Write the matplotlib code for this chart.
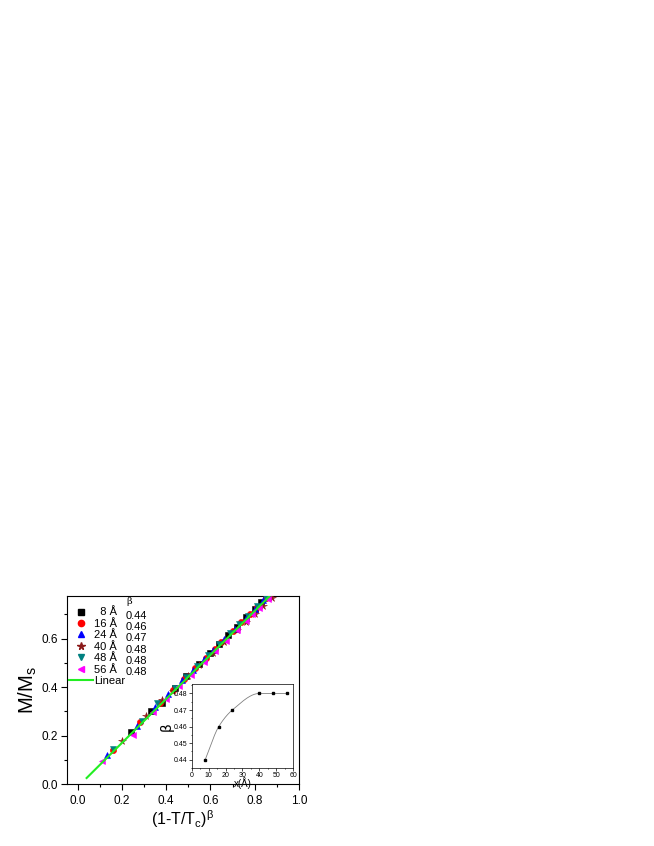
import numpy as np
import matplotlib
matplotlib.use("Agg")
import matplotlib.pyplot as plt
from matplotlib.lines import Line2D
from matplotlib.ticker import MultipleLocator, FormatStrFormatter

# ---------------- data ----------------
labels = ["  8 Å", "16 Å", "24 Å", "40 Å", "48 Å", "56 Å"]
beta = [0.44, 0.46, 0.47, 0.48, 0.48, 0.48]
thick = [8, 16, 24, 40, 48, 56]

x8 = [0.24, 0.33, 0.38, 0.44, 0.49, 0.55, 0.60, 0.64, 0.68, 0.72, 0.76, 0.80, 0.83, 0.85]
y8 = [0.217, 0.300, 0.336, 0.398, 0.445, 0.497, 0.541, 0.580, 0.615, 0.650, 0.688, 0.722, 0.752, 0.771]

x16 = [0.16, 0.28, 0.37, 0.43, 0.48, 0.53, 0.58, 0.62, 0.65, 0.70, 0.74, 0.78, 0.81, 0.85]
y16 = [0.142, 0.255, 0.335, 0.390, 0.435, 0.478, 0.522, 0.559, 0.587, 0.631, 0.668, 0.703, 0.731, 0.767]

x24 = [0.13, 0.27, 0.35, 0.41, 0.47, 0.52, 0.57, 0.61, 0.66, 0.71, 0.76, 0.80, 0.84, 0.86]
y24 = [0.120, 0.240, 0.320, 0.372, 0.428, 0.470, 0.515, 0.553, 0.598, 0.640, 0.686, 0.722, 0.758, 0.775]

x40 = [0.20, 0.31, 0.38, 0.43, 0.50, 0.55, 0.61, 0.66, 0.72, 0.76, 0.80, 0.84, 0.88]
y40 = [0.178, 0.282, 0.348, 0.385, 0.445, 0.490, 0.540, 0.585, 0.635, 0.670, 0.700, 0.735, 0.768]

x48 = [0.16, 0.29, 0.36, 0.44, 0.49, 0.54, 0.59, 0.64, 0.69, 0.73, 0.77, 0.81, 0.85]
y48 = [0.145, 0.262, 0.335, 0.398, 0.440, 0.487, 0.533, 0.578, 0.625, 0.660, 0.695, 0.733, 0.768]

x56 = [0.11, 0.25, 0.34, 0.40, 0.46, 0.51, 0.57, 0.62, 0.67, 0.72, 0.76, 0.79, 0.82, 0.86]
y56 = [0.098, 0.205, 0.298, 0.352, 0.405, 0.452, 0.505, 0.548, 0.592, 0.637, 0.673, 0.700, 0.726, 0.762]

lin_x = [0.04, 0.875]
lin_y = [0.026, 0.782]

series_x = [x8, x16, x24, x40, x48, x56]
series_y = [y8, y16, y24, y40, y48, y56]
markers = ["s", "o", "^", "*", "v", "<"]
colors = ["black", "red", "blue", "#8b1a1a", "#008080", "#ff00ff"]
msizes = [4, 4.5, 4.5, 5.5, 4.5, 4.5]


def pchip(xk, yk, xs):
    # monotone cubic through the inset points
    xk = np.asarray(xk, float)
    yk = np.asarray(yk, float)
    h = np.diff(xk)
    d = np.diff(yk) / h
    m = np.zeros_like(yk)
    for i in range(1, len(xk) - 1):
        if d[i - 1] * d[i] > 0:
            w1 = 2 * h[i] + h[i - 1]
            w2 = h[i] + 2 * h[i - 1]
            m[i] = (w1 + w2) / (w1 / d[i - 1] + w2 / d[i])
    m[0] = d[0]
    m[-1] = d[-1]
    out = np.empty_like(xs)
    for j, x in enumerate(xs):
        i = min(max(np.searchsorted(xk, x) - 1, 0), len(xk) - 2)
        t = (x - xk[i]) / h[i]
        h00 = 2 * t**3 - 3 * t**2 + 1
        h10 = t**3 - 2 * t**2 + t
        h01 = -2 * t**3 + 3 * t**2
        h11 = t**3 - t**2
        out[j] = h00 * yk[i] + h10 * h[i] * m[i] + h01 * yk[i + 1] + h11 * h[i] * m[i + 1]
    return out


plt.rcParams["font.family"] = "Liberation Sans"

fig = plt.figure(figsize=(6.54, 8.46), dpi=100)
ax = fig.add_axes([0.102, 0.0729, 0.355, 0.223])

for xs, ys, mk, c, ms in zip(series_x, series_y, markers, colors, msizes):
    ax.plot(xs, ys, linestyle="none", marker=mk, color=c, markersize=ms,
            markeredgewidth=0.4, zorder=3)
ax.plot(lin_x, lin_y, color="#22ee22", linewidth=1.5, zorder=4)

ax.set_xlim(-0.05, 1.0)
ax.set_ylim(0.0, 0.777)
ax.xaxis.set_major_locator(MultipleLocator(0.2))
ax.xaxis.set_minor_locator(MultipleLocator(0.1))
ax.yaxis.set_major_locator(MultipleLocator(0.2))
ax.yaxis.set_minor_locator(MultipleLocator(0.1))
ax.tick_params(which="both", direction="out", labelsize=8.5, width=0.8)
ax.tick_params(which="major", length=4)
ax.tick_params(which="minor", length=2)
ax.tick_params(axis="y", pad=2)
ax.set_xlabel(r"(1-T/T$_\mathregular{c}$)$^\mathregular{\beta}$", fontsize=11.5, labelpad=1)
ax.set_ylabel(r"M/M$_\mathregular{s}$", fontsize=14.5, labelpad=2)

handles = [Line2D([], [], linestyle="none", marker=mk, color=c, markersize=ms)
           for mk, c, ms in zip(markers, colors, msizes)]
handles.append(Line2D([], [], color="#22ee22", linewidth=1.5))
ax.legend(handles, labels + ["Linear"], loc="upper left", bbox_to_anchor=(-0.005, 0.955),
          frameon=False, fontsize=8, handlelength=2.2, handletextpad=0.05,
          labelspacing=0.13, borderaxespad=0.2, borderpad=0.1)

ax.text(0.255, 0.967, "β", transform=ax.transAxes, fontsize=7, va="center",
        family="DejaVu Serif")
for i, b in enumerate(beta):
    ax.text(0.255, 0.892 - i * 0.0594, f"{b:.2f}", transform=ax.transAxes,
            fontsize=8, va="center")

# ---------------- inset ----------------
ins = fig.add_axes([0.293, 0.0922, 0.1555, 0.0989])
xs_fine = np.linspace(thick[0], thick[-1], 200)
ins.plot(xs_fine, pchip(thick, beta, xs_fine), color="gray", linewidth=0.6)
ins.plot(thick, beta, linestyle="none", marker="s", color="black", markersize=1.8)
ins.set_xlim(0, 60)
ins.set_ylim(0.435, 0.4855)
ins.xaxis.set_major_locator(MultipleLocator(10))
ins.xaxis.set_minor_locator(MultipleLocator(5))
ins.yaxis.set_major_locator(MultipleLocator(0.01))
ins.yaxis.set_minor_locator(MultipleLocator(0.005))
ins.yaxis.set_major_formatter(FormatStrFormatter("%.2f"))
ins.tick_params(which="both", direction="out", labelsize=5, width=0.5, pad=1)
ins.tick_params(which="major", length=2)
ins.tick_params(which="minor", length=1)
for s in ins.spines.values():
    s.set_linewidth(0.5)
ins.set_xlabel("x(Å)", fontsize=7, labelpad=-1.5)
ins.set_ylabel("β", fontsize=10, labelpad=0, family="DejaVu Sans")

fig.savefig("out.png", dpi=100)
